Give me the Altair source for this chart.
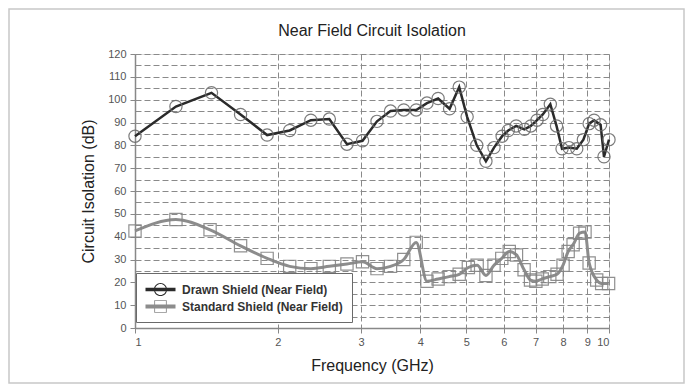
import altair as alt
import pandas as pd

# ---- data ----
drawn_freq = [1.00, 1.22, 1.45, 1.67, 1.90, 2.12, 2.35, 2.57, 2.80, 3.02, 3.24, 3.46, 3.69, 3.92,
              4.13, 4.36, 4.61, 4.83, 5.02, 5.26, 5.50, 5.72, 5.95, 6.13, 6.37, 6.63, 6.84, 7.05,
              7.25, 7.52, 7.75, 7.96, 8.23, 8.55, 8.83, 9.08, 9.30, 9.60, 9.76, 10.0]
drawn_db = [84, 97, 103, 93.5, 84.5, 86.5, 91, 91.5, 80.5, 82, 90.5, 95, 95.5, 95.5,
            98.5, 100.5, 96, 105.5, 92.5, 80, 73, 79, 84, 86.5, 88.5, 87, 88.5, 91,
            93.5, 98, 88.5, 78.5, 79, 78.5, 82.5, 89.5, 91, 89, 75, 82.5]

std_freq = [1.00, 1.22, 1.44, 1.67, 1.90, 2.12, 2.35, 2.57, 2.80, 3.02, 3.24, 3.46, 3.69, 3.92,
            4.13, 4.36, 4.60, 4.83, 5.05, 5.27, 5.50, 5.72, 5.94, 6.16, 6.38, 6.62, 6.83, 7.01,
            7.23, 7.50, 7.77, 8.00, 8.20, 8.40, 8.67, 8.90, 9.08, 9.42, 9.65, 9.98]
std_db = [42.5, 47.5, 43, 36, 30.5, 27, 26, 27, 28, 29, 26, 27, 30, 37.5,
          20.5, 21.5, 22.5, 23.5, 26.5, 27.5, 23, 27.5, 30.5, 33.5, 32, 25.5, 21, 20.5,
          21.5, 22.5, 23.5, 27.5, 33.5, 36.5, 41.5, 42, 28.5, 21, 19.5, 19.5]

series_names = ["Drawn Shield (Near Field)", "Standard Shield (Near Field)"]
series_colors = ["#2b2b2b", "#8c8c8c"]
x_ticks = [1, 2, 3, 4, 5, 6, 7, 8, 9, 10]
y_grid = list(range(0, 125, 5))
chart_title = "Near Field Circuit Isolation"

FONT = "Liberation Sans"

drawn = pd.DataFrame({"freq": drawn_freq, "db": drawn_db, "series": series_names[0]})
std = pd.DataFrame({"freq": std_freq, "db": std_db, "series": series_names[1]})
both = pd.concat([drawn, std], ignore_index=True)

x_enc = alt.X("freq:Q",
              scale=alt.Scale(type="log", domain=[1, 10], nice=False),
              axis=alt.Axis(values=x_ticks, format="d", title="Frequency (GHz)",
                            labelOverlap=False,
                            grid=True, gridDash=[6, 3], gridColor="#8a8a8a", gridWidth=1,
                            domainColor="#888888", domainWidth=1.5,
                            tickColor="#888888", tickSize=5,
                            labelFont=FONT, labelFontSize=11, labelColor="#555555", labelPadding=3,
                            titleFont=FONT, titleFontSize=16, titleFontWeight="normal",
                            titleColor="#222222", titlePadding=10))
y_enc = alt.Y("db:Q",
              scale=alt.Scale(domain=[0, 120], nice=False),
              axis=alt.Axis(values=y_grid, title="Circuit Isolation (dB)",
                            labelExpr="datum.value % 10 === 0 ? datum.label : ''",
                            labelOverlap=False,
                            grid=True, gridDash=[6, 3], gridColor="#8a8a8a", gridWidth=1,
                            domainColor="#888888", domainWidth=1.5,
                            tickColor="#888888", tickSize=5,
                            tickOpacity={"condition": {"test": "datum.value % 10 === 0", "value": 1}, "value": 0},
                            labelFont=FONT, labelFontSize=11, labelColor="#555555", labelPadding=4,
                            titleFont=FONT, titleFontSize=16, titleFontWeight="normal",
                            titleColor="#222222", titlePadding=11))

frame = alt.Chart(pd.DataFrame({"a": [0]})).mark_rect(
    fill=None, stroke="#c8c8c8", strokeWidth=1.5
).encode(x=alt.value(-126), x2=alt.value(549), y=alt.value(-45), y2=alt.value(329))

title_mark = alt.Chart(pd.DataFrame({"t": [chart_title]})).mark_text(
    font=FONT, fontSize=16, color="#222222", align="center", baseline="middle"
).encode(text="t:N", x=alt.value(237), y=alt.value(-23))

drawn_line = alt.Chart(drawn).mark_line(color=series_colors[0], strokeWidth=2.5).encode(x=x_enc, y=y_enc)
drawn_pts = alt.Chart(drawn).mark_point(shape="circle", size=150, filled=False,
                                         color="#6e6e6e", strokeWidth=1.2, opacity=0.9).encode(x=x_enc, y=y_enc)
std_line = alt.Chart(std).mark_line(color=series_colors[1], strokeWidth=3,
                                    interpolate="monotone").encode(x=x_enc, y=y_enc)
std_pts = alt.Chart(std).mark_point(shape="square", size=150, filled=False,
                                     color="#858585", strokeWidth=1.2, opacity=0.9).encode(x=x_enc, y=y_enc)

circle_sym = ("M-2,-0.24L2,-0.24L2,0.24L-2,0.24Z "
              "M0.88,0A0.88,0.88 0 1,1 -0.88,0A0.88,0.88 0 1,1 0.88,0Z "
              "M0.74,0A0.74,0.74 0 1,0 -0.74,0A0.74,0.74 0 1,0 0.74,0Z")
square_sym = ("M-2,-0.27L2,-0.27L2,0.27L-2,0.27Z "
              "M-0.84,-0.84L0.84,-0.84L0.84,0.84L-0.84,0.84Z "
              "M-0.72,-0.72L-0.72,0.72L0.72,0.72L0.72,-0.72Z")

legend = alt.Legend(title=None, orient="none", legendX=1, legendY=219,
                    fillColor="white", strokeColor="#6a6a6a", padding=9,
                    symbolSize=225, symbolStrokeWidth=0, symbolOpacity=1, symbolOffset=8,
                    labelFont=FONT, labelFontSize=12, labelFontWeight="bold",
                    labelColor="#333333", labelOffset=14, rowPadding=2, labelLimit=300)

legend_layer = alt.Chart(both).mark_point(filled=True, opacity=0).encode(
    x=x_enc, y=y_enc,
    color=alt.Color("series:N", scale=alt.Scale(domain=series_names, range=series_colors), legend=legend),
    shape=alt.Shape("series:N", scale=alt.Scale(domain=series_names, range=[circle_sym, square_sym]),
                    legend=legend),
)

chart = alt.layer(frame, title_mark, drawn_line, std_line, drawn_pts, std_pts, legend_layer).properties(
    width=474, height=274,
    autosize=alt.AutoSizeParams(type="none"),
    padding={"left": 127, "top": 46, "right": 76, "bottom": 56},
).configure_view(stroke="#888888", strokeWidth=1.5).configure(background="white")

chart.save("out.html", embed_options={"renderer": "svg", "actions": False})
